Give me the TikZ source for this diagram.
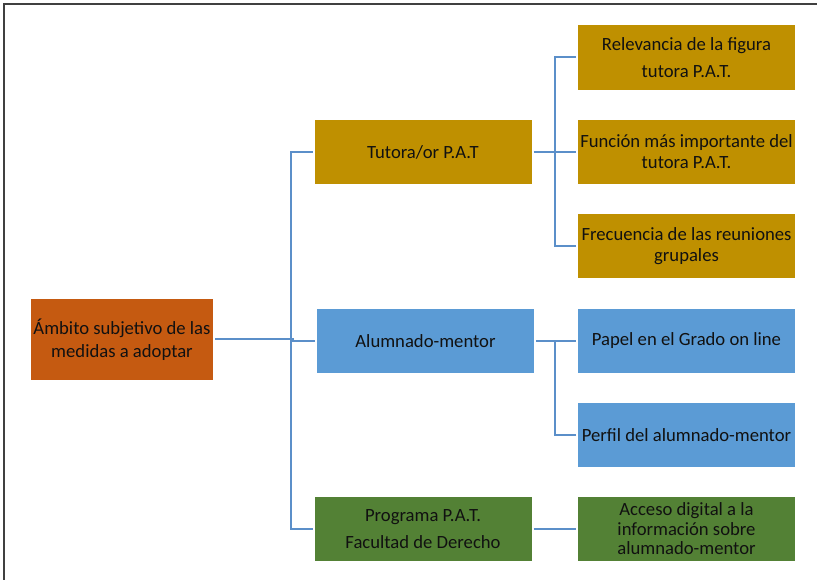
\documentclass[tikz,border=0pt]{standalone}
\usepackage{fontspec}
\setmainfont{Carlito}
\definecolor{cOrange}{HTML}{C55A11}
\definecolor{cGold}{HTML}{BF9000}
\definecolor{cBlue}{HTML}{5B9BD5}
\definecolor{cGreen}{HTML}{538135}
\definecolor{cLine}{HTML}{5B8FC9}
\definecolor{cText}{HTML}{111111}
\definecolor{cFrame}{HTML}{404040}
\tikzset{
  box/.style={rectangle, draw=none, text=cText, align=center,
    minimum width=217*0.75pt, minimum height=64*0.75pt, inner sep=0pt,
    outer sep=1.5pt, font=\fontsize{14pt}{15.75pt}\selectfont},
  gold/.style={box, fill=cGold},
  blue/.style={box, fill=cBlue},
  green/.style={box, fill=cGreen},
  conn/.style={draw=cLine, line width=1.5pt},
}
\begin{document}
\begin{tikzpicture}[x=0.75pt, y=-0.75pt]
\useasboundingbox (0,0) rectangle (817,580);
% frame (only top and left visible)
\draw[cFrame, line width=1.5pt] (4,585) -- (4,4) -- (825,4);
% nodes
\node[box, fill=cOrange, minimum width=182*0.75pt, minimum height=81*0.75pt,
  font=\fontsize{14pt}{17.25pt}\selectfont] (root) at (122,339.5)
  {Ámbito subjetivo de las\\medidas a adoptar};
\node[gold] (tut) at (423,152) {Tutora/or P.A.T};
\node[blue] (alu) at (425.5,341) {Alumnado-mentor};
\node[green, font=\fontsize{14pt}{20.25pt}\selectfont] (pro) at (423,529)
  {Programa P.A.T.\\Facultad de Derecho};
\node[gold, minimum height=65*0.75pt, font=\fontsize{14pt}{20.25pt}\selectfont]
  (rel) at (686.5,57.5) {Relevancia de la figura\\tutora P.A.T.};
\node[gold] (fun) at (686.5,152) {Función más importante del\\tutora P.A.T.};
\node[gold] (fre) at (686.5,246) {Frecuencia de las reuniones\\grupales};
\node[blue] (pap) at (686.5,341) {Papel en el Grado on line};
\node[blue] (per) at (686.5,435) {Perfil del alumnado-mentor};
\node[green, font=\fontsize{14pt}{14.6pt}\selectfont] (acc) at (686.5,529)
  {Acceso digital a la\\información sobre\\alumnado-mentor};
% bus coordinates
\coordinate (b1) at (291,0);
\coordinate (b2) at (555,0);
% connectors level 1
\draw[conn] (root.east) -- ([xshift=2pt]b1 |- root.east);
\draw[conn] (tut.west) -| (b1 |- pro.west) -- (pro.west);
\draw[conn] (alu.west) -- (b1 |- alu.west);
% connectors level 2
\draw[conn] (rel.west) -| (b2 |- fre.west) -- (fre.west);
\draw[conn] (tut.east) -- (fun.west);
\draw[conn] (alu.east) -- (pap.west);
\draw[conn] (per.west) -| (b2 |- pap.west);
\draw[conn] (pro.east) -- (acc.west);
\end{tikzpicture}
\end{document}
